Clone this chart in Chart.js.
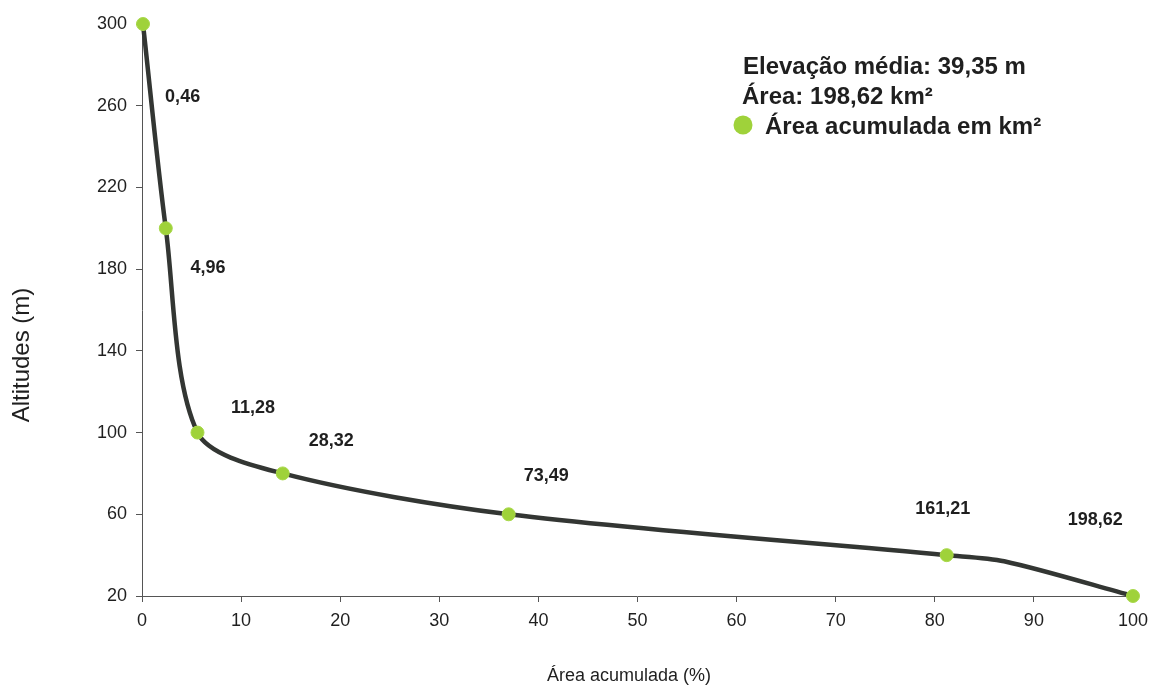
<!DOCTYPE html>
<html><head><meta charset="utf-8">
<script src="https://cdn.jsdelivr.net/npm/chart.js@4/dist/chart.umd.min.js"></script>
<style>html,body{margin:0;padding:0;background:#fff}#wrap{width:1156px;height:685px}</style>
</head><body><div id="wrap"><canvas id="c" width="1156" height="685"></canvas></div>
<script>
// ---- data ----
const markerPct = [0.1, 2.4, 5.6, 14.2, 37.0, 81.2, 100];
const markerAlt = [300, 200, 100, 80, 60, 40, 20];
const areaLabels = ['0,46', '4,96', '11,28', '28,32', '73,49', '161,21', '198,62'];
const curvePct = [0.1, 2.4, 5.6, 14.2, 37.0, 81.2, 87, 100];
const curveAlt = [300, 200, 100, 80, 60, 40, 37, 20];
const xTicks = [0, 10, 20, 30, 40, 50, 60, 70, 80, 90, 100];
const yTicks = [20, 60, 100, 140, 180, 220, 260, 300];
const legendLines = ['Elevação média: 39,35 m', 'Área: 198,62 km²', 'Área acumulada em km²'];
const xTitle = 'Área acumulada (%)';
const yTitle = 'Altitudes (m)';
// anchors (data units) of the area labels
const labelAnchorX = [4.1, 6.65, 11.2, 19.1, 40.8, 80.8, 96.2];
const labelAnchorY = [264.8, 181.5, 113, 96.4, 79.7, 63.1, 57.7];

const FONT = "'Liberation Sans', Arial, sans-serif";
const TXT = '#1f1f1f';
const GREEN = '#9fd23a';

const overlay = {
  id: 'overlay',
  afterDatasetsDraw(chart) {
    const ctx = chart.ctx, xs = chart.scales.x, ys = chart.scales.y;
    ctx.save();
    ctx.fillStyle = TXT;
    // area labels
    ctx.font = 'bold 18px ' + FONT;
    ctx.textAlign = 'center';
    ctx.textBaseline = 'alphabetic';
    areaLabels.forEach((t, i) => {
      ctx.fillText(t, xs.getPixelForValue(labelAnchorX[i]), ys.getPixelForValue(labelAnchorY[i]) + 6.5);
    });
    // legend block
    ctx.font = 'bold 24px ' + FONT;
    ctx.textAlign = 'left';
    ctx.fillText(legendLines[0], 743, 74);
    ctx.fillText(legendLines[1], 742, 104);
    ctx.fillText(legendLines[2], 765, 134);
    ctx.beginPath();
    ctx.arc(743, 125, 9.5, 0, Math.PI * 2);
    ctx.fillStyle = GREEN;
    ctx.fill();
    // axis titles
    ctx.fillStyle = TXT;
    ctx.font = '18px ' + FONT;
    ctx.textAlign = 'center';
    ctx.textBaseline = 'middle';
    ctx.fillText(xTitle, 629, 676);
    ctx.save();
    ctx.translate(22, 355);
    ctx.rotate(-Math.PI / 2);
    ctx.font = '24px ' + FONT;
    ctx.fillText(yTitle, 0, 0);
    ctx.restore();
    ctx.restore();
  }
};

new Chart(document.getElementById('c'), {
  type: 'line',
  data: {
    datasets: [
      {
        data: curvePct.map((x, i) => ({ x, y: curveAlt[i] })),
        borderColor: '#333633',
        borderWidth: 4.5,
        pointRadius: 0,
        tension: 0.3,
        fill: false,
        clip: false,
        order: 2
      },
      {
        data: markerPct.map((x, i) => ({ x, y: markerAlt[i] })),
        showLine: false,
        pointRadius: 6.5,
        pointBackgroundColor: GREEN,
        pointBorderColor: '#a8d84a',
        pointBorderWidth: 1,
        clip: false,
        order: 1
      }
    ]
  },
  options: {
    responsive: false,
    devicePixelRatio: 1,
    animation: false,
    layout: { padding: { left: 0, top: 24, right: 21, bottom: 0 } },
    plugins: { legend: { display: false }, tooltip: { enabled: false } },
    scales: {
      x: {
        type: 'linear', min: 0, max: 100,
        afterBuildTicks: s => { s.ticks = xTicks.map(v => ({ value: v })); },
        afterFit: s => { s.height = 89; },
        grid: { drawOnChartArea: false, drawTicks: true, tickLength: 6, color: '#555' },
        border: { color: '#555', width: 1 },
        ticks: { font: { family: FONT, size: 18 }, color: TXT, padding: 8, maxRotation: 0 }
      },
      y: {
        type: 'linear', min: 20, max: 300,
        afterBuildTicks: s => { s.ticks = yTicks.map(v => ({ value: v })); },
        afterFit: s => { s.width = 142; },
        grid: { drawOnChartArea: false, drawTicks: true, tickLength: 6, color: '#555' },
        border: { color: '#555', width: 1 },
        ticks: { font: { family: FONT, size: 18 }, color: TXT, padding: 9 }
      }
    }
  },
  plugins: [overlay]
});
</script></body></html>
